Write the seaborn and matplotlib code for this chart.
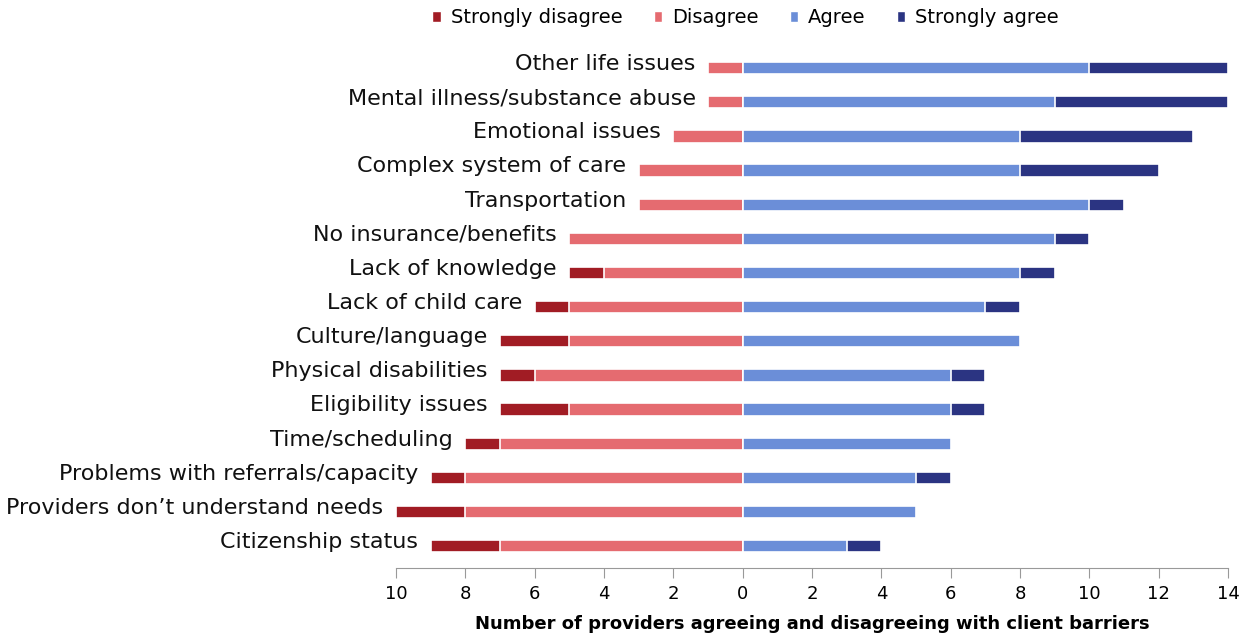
import pandas as pd
import matplotlib.pyplot as plt
import seaborn as sns
from matplotlib.patches import Patch

# Barreiras e contagens de respostas
barriers = ["Other life issues", "Mental illness/substance abuse", "Emotional issues",
            "Complex system of care", "Transportation", "No insurance/benefits",
            "Lack of knowledge", "Lack of child care", "Culture/language",
            "Physical disabilities", "Eligibility issues", "Time/scheduling",
            "Problems with referrals/capacity", "Providers don\u2019t understand needs",
            "Citizenship status"]
strongly_disagree = [0, 0, 0, 0, 0, 0, 1, 1, 2, 1, 2, 1, 1, 2, 2]
disagree = [1, 1, 2, 3, 3, 5, 4, 5, 5, 6, 5, 7, 8, 8, 7]
agree = [10, 9, 8, 8, 10, 9, 8, 7, 8, 6, 6, 6, 5, 5, 3]
strongly_agree = [4, 5, 5, 4, 1, 1, 1, 1, 0, 1, 1, 0, 1, 0, 1]

df = pd.DataFrame({"barrier": barriers, "sd": strongly_disagree, "d": disagree,
                   "a": agree, "sa": strongly_agree})
df["neg_total"] = -(df["sd"] + df["d"])
df["neg_d"] = -df["d"]
df["pos_total"] = df["a"] + df["sa"]

colors = {"Strongly disagree": "#A11C24", "Disagree": "#E56B70",
          "Agree": "#6B8ED8", "Strongly agree": "#2B3482"}

plt.rcParams['font.family'] = ['DejaVu Sans']

fig, ax = plt.subplots(figsize=(12.51, 6.39), dpi=100)
fig.subplots_adjust(left=0.3166, right=0.9816, bottom=0.111, top=0.92)

bar_h = 0.36
kw = dict(y="barrier", data=df, orient="h", width=bar_h, edgecolor="white",
          linewidth=1.2, saturation=1, ax=ax)
# barras cumulativas sobrepostas (a maior primeiro)
sns.barplot(x="neg_total", color=colors["Strongly disagree"], **kw)
sns.barplot(x="neg_d", color=colors["Disagree"], **kw)
sns.barplot(x="pos_total", color=colors["Strongly agree"], **kw)
sns.barplot(x="a", color=colors["Agree"], **kw)

# Rótulos à esquerda de cada barra
for i, row in df.iterrows():
    ax.annotate(row["barrier"], xy=(row["neg_total"], i), xytext=(-9, 3),
                textcoords="offset points", ha="right", va="center",
                fontsize=16, color="#111111")

ax.set_xlim(-10, 14)
ax.set_ylim(14.64, -0.5)
ticks = list(range(-10, 15, 2))
ax.set_xticks(ticks)
ax.set_xticklabels([str(abs(t)) for t in ticks], fontsize=13)
ax.tick_params(axis="x", direction="out", length=7, color="#999999", pad=5)
ax.set_yticks([])
ax.set_ylabel("")
ax.set_xlabel("Number of providers agreeing and disagreeing with client barriers",
              fontsize=13, fontweight="bold", labelpad=9)

for side in ["left", "right", "top"]:
    ax.spines[side].set_visible(False)
ax.spines["bottom"].set_color("#999999")

handles = [Patch(facecolor=c, edgecolor="white", label=k) for k, c in colors.items()]
fig.legend(handles=handles, loc="center", bbox_to_anchor=(0.596, 0.972), ncol=4,
           frameon=False, fontsize=14, handlelength=0.45, handleheight=0.55,
           handletextpad=0.5, columnspacing=1.6)

plt.savefig("out.png", dpi=100, facecolor="white")
